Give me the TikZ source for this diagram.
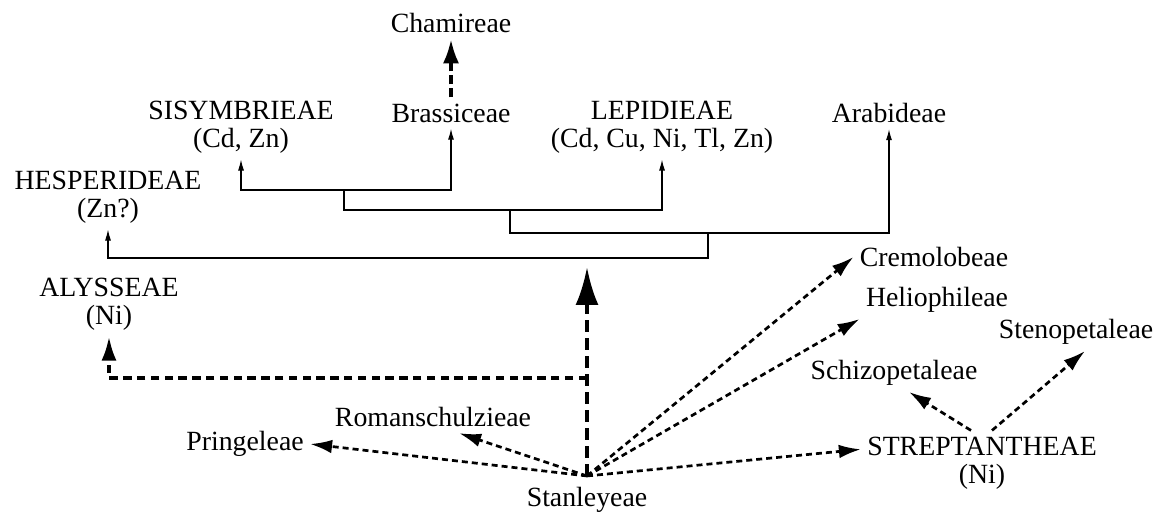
\documentclass[tikz,border=0pt]{standalone}
\usepackage{fontspec}
\setmainfont{Liberation Serif}
\usetikzlibrary{positioning, calc, arrows.meta}
\tikzstyle{lbl} = [align=center, inner sep=3pt, font=\fontsize{13.9}{14}\selectfont]
\tikzstyle{tree} = [line width=0.55pt, -{Latex[length=5.5pt,width=3pt]}]
\tikzstyle{link} = [line width=1.35pt, dash pattern=on 3pt off 2pt, -{Latex[length=11pt,width=6.8pt]}]
\tikzstyle{boldlink} = [line width=2pt, dash pattern=on 6pt off 3pt, -{Latex[length=19pt,width=11.5pt]}]

\begin{document}
\begin{tikzpicture}[x=0.5pt, y=-0.5pt]
\useasboundingbox (0,0) rectangle (1165,512);
% tribes of the upper tree
\node (brass) [lbl] at (451,113) {Brassiceae};
\node (cham) [lbl, above=29pt of brass] {Chamireae};
\node (sisym) [lbl] at (241,127) {SISYMBRIEAE\\(Cd, Zn)};
\node (lepid) [lbl] at (662,127) {LEPIDIEAE\\(Cd, Cu, Ni, Tl, Zn)};
\node (arab) [lbl] at (889,113) {Arabideae};
\node (hesp) [lbl] at (108,197) {HESPERIDEAE\\(Zn?)};
% tribes around Stanleyeae
\node (stan) [lbl, inner ysep=5.5pt] at (587,500) {Stanleyeae};
\node (alyss) [lbl] at (109,304) {ALYSSEAE\\(Ni)};
\node (pring) [lbl] at (245,444) {Pringeleae};
\node (roman) [lbl] at (433,417) {Romanschulzieae};
\node (crem) [lbl] at (934,257) {Cremolobeae};
\node (helio) [lbl] at (937,300) {Heliophileae};
\node (strep) [lbl] at (982,463) {STREPTANTHEAE\\(Ni)};
\node (schizo) [lbl] at (894,373) {Schizopetaleae};
\node (steno) [lbl] at (1076,332) {Stenopetaleae};
% branch points
\coordinate (a1) at (344,190);
\coordinate (a2) at (344,210);
\coordinate (b1) at (510,210);
\coordinate (b2) at (510,233);
\coordinate (c1) at (708,233);
\coordinate (c2) at (708,258);
\coordinate (root) at (587,258);
\coordinate (alyturn) at (587,378);
% upper tree
\draw [tree] (a1) -| (sisym.south);
\draw [tree] (a1) -| (brass.south);
\draw [tree] (a1) -- (a2) -| (lepid.south);
\draw [tree] (b1) -- (b2) -| (arab.south);
\draw [tree] (c1) -- (c2) -| (hesp.south);
\draw [boldlink, line width=1.8pt, dash pattern=on 4.5pt off 2pt, -{Latex[length=12pt,width=8pt]}] (brass.north) -- (cham.south);
% links from Stanleyeae
\draw [boldlink, shorten >=4.5pt] (stan.north) -- (root);
\draw [boldlink, line width=1.7pt, dash pattern=on 4.2pt off 2.7pt, -{Latex[length=12pt,width=7.5pt]}] (alyturn) -| (alyss.south);
\draw [link] (stan.north) -- (pring.east);
\draw [link] (stan.north) -- ($(roman.south)!0.25!(roman.south east)$);
\draw [link] (stan.north) -- (crem.west);
\draw [link] (stan.north) -- (helio.south west);
\draw [link] (stan.north) -- ($(strep.north west)!0.29!(strep.south west)$);
\draw [link] ($(strep.north)+(-11,0)$) -- ($(schizo.south)+(15,0)$);
\draw [link] ($(strep.north)+(10,0)$) -- ($(steno.south)+(9,0)$);
\end{tikzpicture}
\end{document}
